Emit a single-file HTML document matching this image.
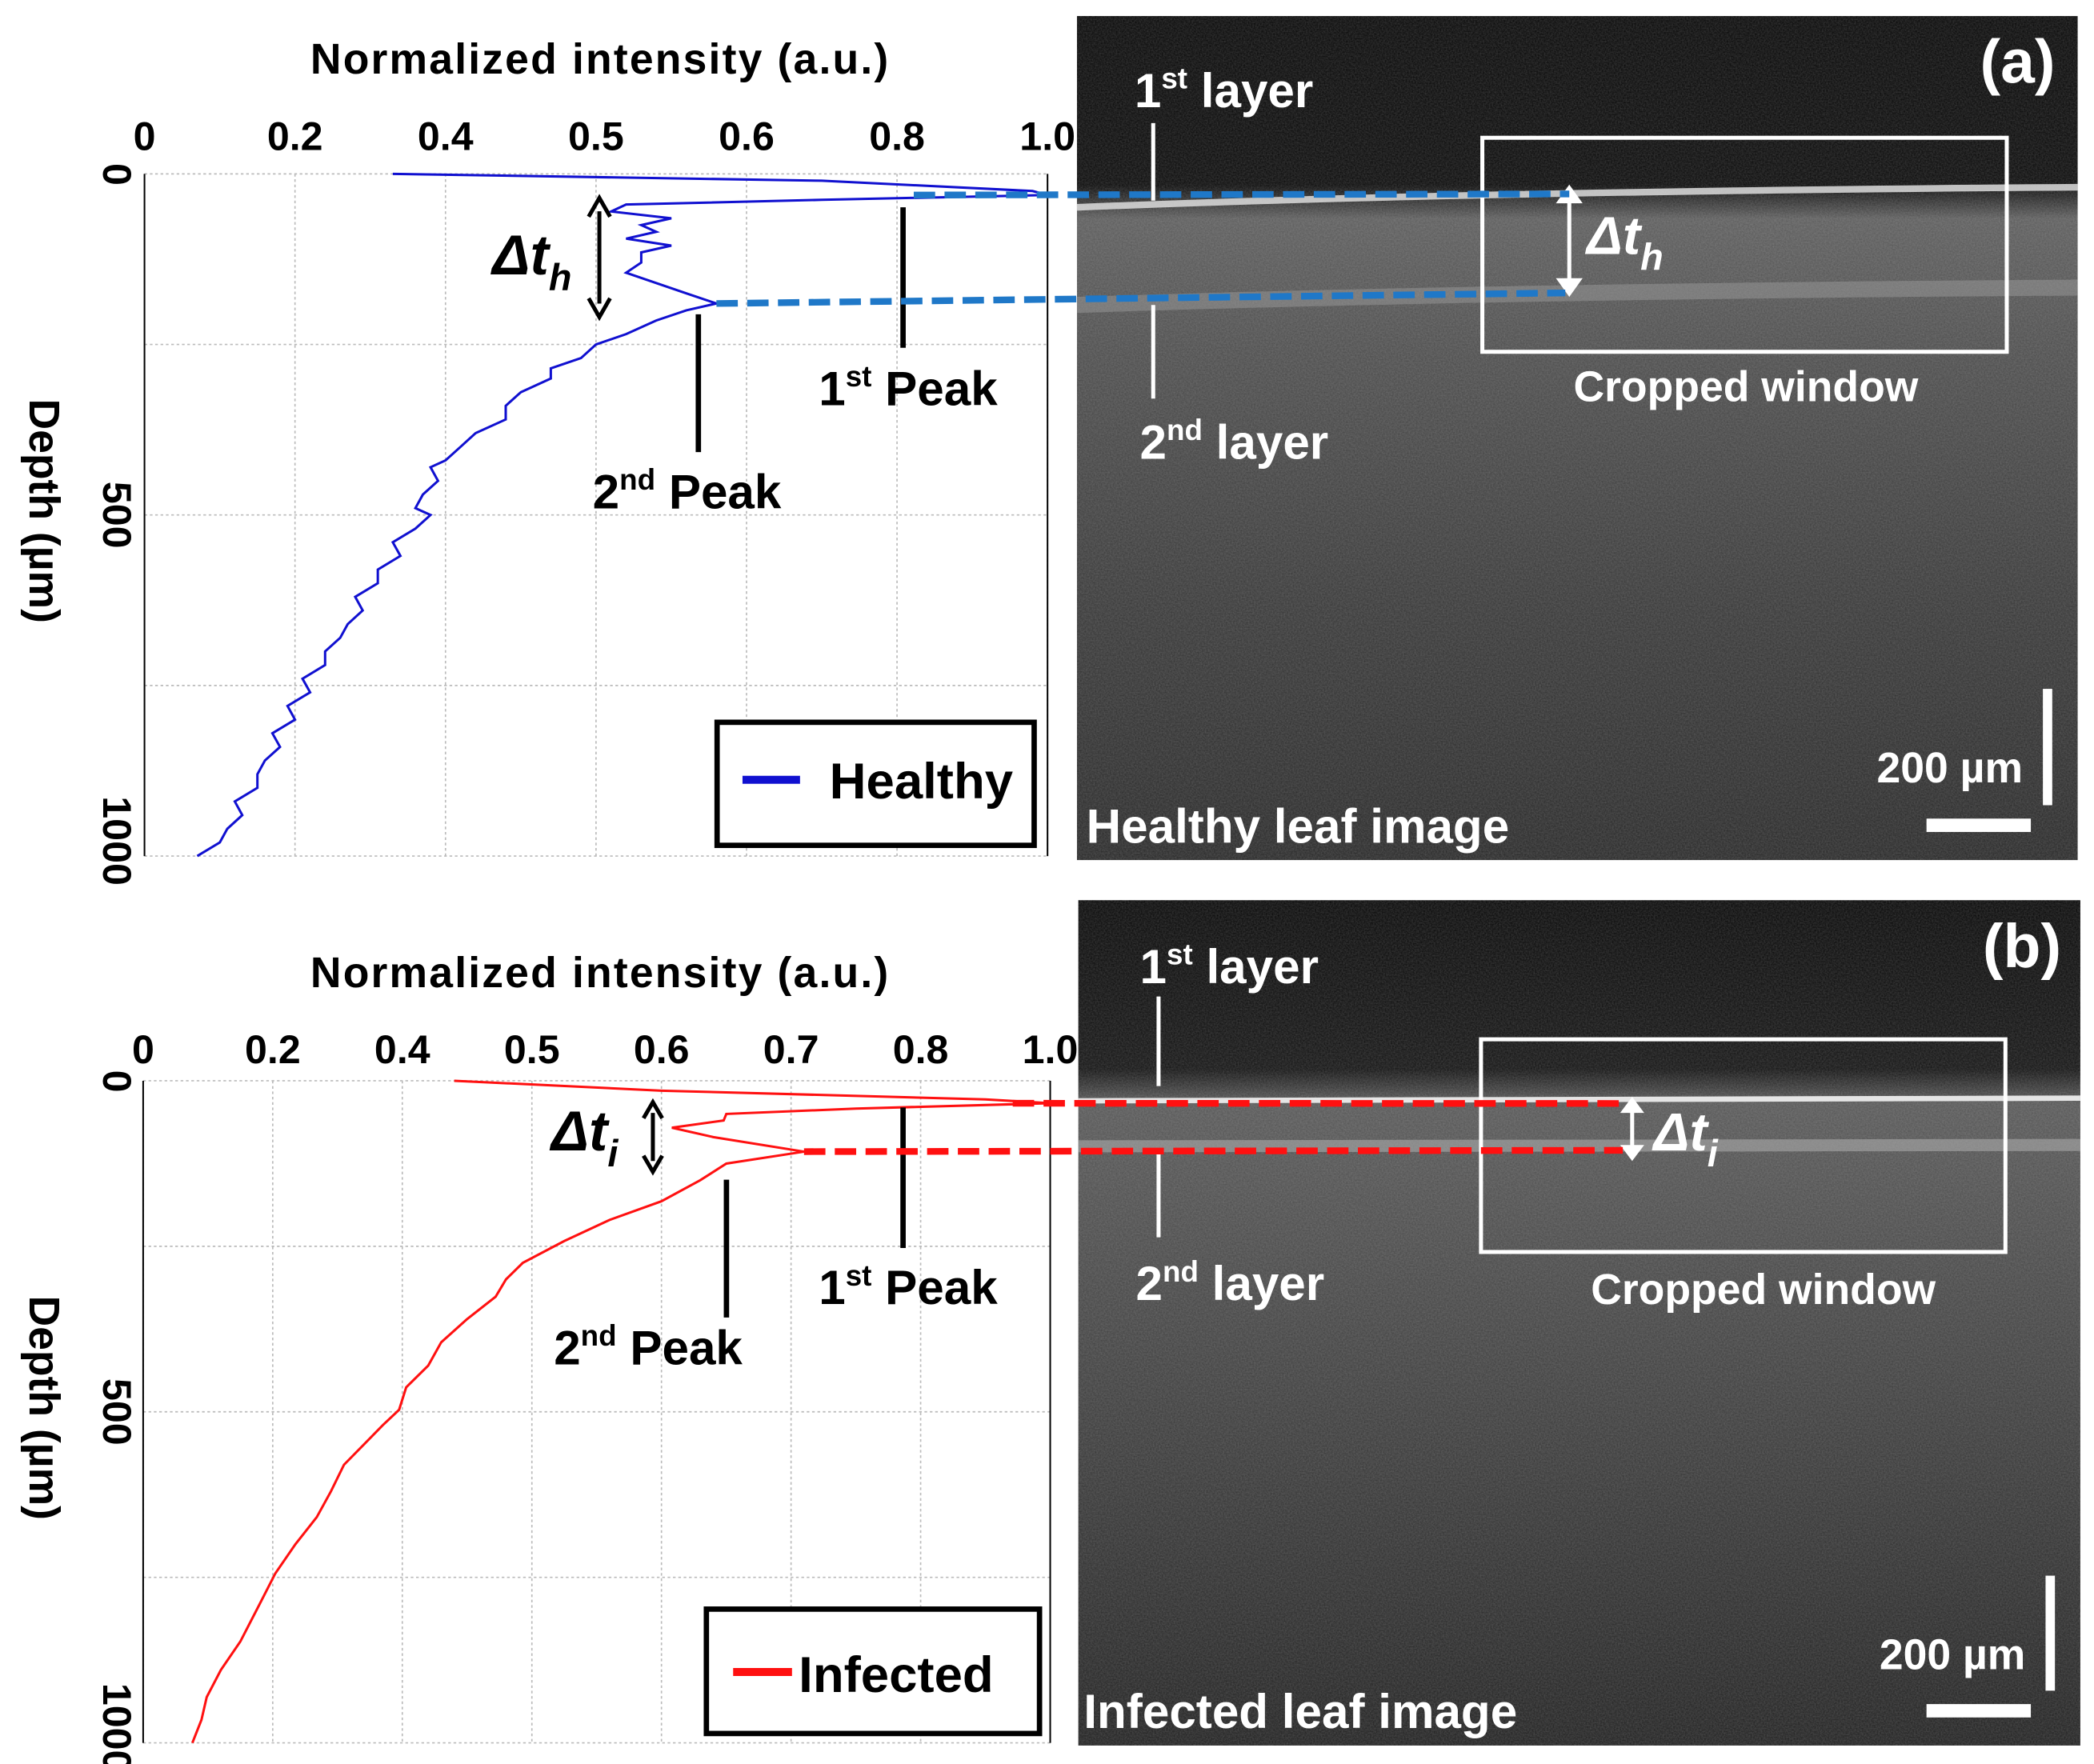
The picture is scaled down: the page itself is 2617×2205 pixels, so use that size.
<!DOCTYPE html>
<html><head><meta charset="utf-8"><style>
html,body{margin:0;padding:0;background:#fff;width:2617px;height:2205px;overflow:hidden}
svg{display:block}
text{font-family:"Liberation Sans",sans-serif;font-weight:bold}
</style></head><body>
<svg id="fig" width="2617" height="2205" viewBox="0 0 1565.2 1318.8" xmlns="http://www.w3.org/2000/svg">
<defs>
<filter id="noise" x="0" y="0" width="100%" height="100%"><feTurbulence type="fractalNoise" baseFrequency="0.9" numOctaves="2" seed="3"/><feColorMatrix type="matrix" values="0 0 0 0 1  0 0 0 0 1  0 0 0 0 1  0 0 0 0.35 0"/></filter>
<linearGradient id="gA" x1="0" y1="0" x2="0" y2="1"><stop offset="0" stop-color="#050505"/><stop offset="0.2" stop-color="#080808"/><stop offset="0.24" stop-color="#5a5a5a"/><stop offset="0.4" stop-color="#4a4a4a"/><stop offset="0.7" stop-color="#353535"/><stop offset="1" stop-color="#262626"/></linearGradient>
<linearGradient id="gB" x1="0" y1="0" x2="0" y2="1"><stop offset="0" stop-color="#050505"/><stop offset="0.2" stop-color="#111"/><stop offset="0.24" stop-color="#555"/><stop offset="0.45" stop-color="#454545"/><stop offset="0.75" stop-color="#303030"/><stop offset="1" stop-color="#1e1e1e"/></linearGradient>
</defs>
<g id="topChart"></g>
<g id="botChart"></g>

<g>
<rect x="805" y="12" width="748" height="631" fill="url(#gA)"/>
<rect x="805" y="12" width="748" height="631" filter="url(#noise)" opacity="0.6"/>
<path d="M805 155 Q1100 143 1553 140" stroke="#ddd" stroke-width="5" fill="none" opacity="0.85"/>
<path d="M805 228 Q1100 218 1553 215" stroke="#999" stroke-width="12" fill="none" opacity="0.5"/>
<text x="1480" y="62" font-size="46" fill="#fff">(a)</text>
<text x="848" y="80" font-size="36" fill="#fff">1<tspan font-size="22" dy="-14">st</tspan><tspan dy="14"> layer</tspan></text>
<line x1="862" y1="92" x2="862" y2="150" stroke="#fff" stroke-width="3"/>
<line x1="862" y1="228" x2="862" y2="298" stroke="#fff" stroke-width="3"/>
<text x="852" y="343" font-size="36" fill="#fff">2<tspan font-size="22" dy="-14">nd</tspan><tspan dy="14"> layer</tspan></text>
<rect x="1108" y="103" width="392" height="160" fill="none" stroke="#fff" stroke-width="3"/>
<text x="1305" y="300" font-size="32" fill="#fff" text-anchor="middle">Cropped window</text>
<line x1="1173" y1="148" x2="1173" y2="212" stroke="#fff" stroke-width="3"/>
<path d="M1163 152 L1173 138 L1183 152Z M1163 208 L1173 222 L1183 208Z" fill="#fff"/>
<text x="1186" y="190" font-size="40" fill="#fff" font-style="italic">Δt<tspan font-size="28" dy="12">h</tspan></text>
<rect x="1527" y="515" width="7" height="87" fill="#fff"/>
<rect x="1440" y="612" width="78" height="10" fill="#fff"/>
<text x="1512" y="585" font-size="32" fill="#fff" text-anchor="end">200 µm</text>
<text x="812" y="630" font-size="36" fill="#fff">Healthy leaf image</text>
</g>
<g>
<rect x="806" y="673" width="749" height="632" fill="url(#gB)"/>
<rect x="806" y="673" width="749" height="632" filter="url(#noise)" opacity="0.6"/>
<line x1="806" y1="823" x2="1555" y2="821" stroke="#e5e5e5" stroke-width="4"/>
<line x1="806" y1="857" x2="1555" y2="856" stroke="#aaa" stroke-width="9" opacity="0.6"/>
<text x="1482" y="723" font-size="46" fill="#fff">(b)</text>
<text x="852" y="735" font-size="36" fill="#fff">1<tspan font-size="22" dy="-14">st</tspan><tspan dy="14"> layer</tspan></text>
<line x1="866" y1="745" x2="866" y2="812" stroke="#fff" stroke-width="3"/>
<line x1="866" y1="862" x2="866" y2="925" stroke="#fff" stroke-width="3"/>
<text x="849" y="972" font-size="36" fill="#fff">2<tspan font-size="22" dy="-14">nd</tspan><tspan dy="14"> layer</tspan></text>
<rect x="1107" y="777" width="392" height="159" fill="none" stroke="#fff" stroke-width="3"/>
<text x="1318" y="975" font-size="32" fill="#fff" text-anchor="middle">Cropped window</text>
<line x1="1220" y1="828" x2="1220" y2="860" stroke="#fff" stroke-width="3"/>
<path d="M1211 832 L1220 820 L1229 832Z M1211 856 L1220 868 L1229 856Z" fill="#fff"/>
<text x="1236" y="860" font-size="40" fill="#fff" font-style="italic">Δt<tspan font-size="28" dy="12">i</tspan></text>
<rect x="1529" y="1178" width="7" height="86" fill="#fff"/>
<rect x="1440" y="1274" width="78" height="10" fill="#fff"/>
<text x="1514" y="1248" font-size="32" fill="#fff" text-anchor="end">200 µm</text>
<text x="810" y="1292" font-size="36" fill="#fff">Infected leaf image</text>
</g>
<g id="overChart"></g>
</svg>
<script>
const NS='http://www.w3.org/2000/svg';
const hTicks=[0,0.2,0.4,0.5,0.6,0.8,1.0];
const depthTicks=[0,250,500,750,1000];
const hDepth=[0,10,25,31,38,45,55,65,75,85,95,105,115,130,145,160,175,190,200,215,235,250,270,285,300,320,340,360,380,400,420,430,450,470,490,500,520,540,560,580,600,620,640,660,680,700,720,740,760,780,800,820,840,860,880,900,920,940,960,980,1000];
const hVal=[0.33,0.7,0.98,1.0,0.7,0.52,0.51,0.55,0.53,0.54,0.52,0.55,0.53,0.53,0.52,0.54,0.56,0.58,0.56,0.54,0.52,0.50,0.49,0.47,0.47,0.45,0.44,0.44,0.42,0.41,0.40,0.38,0.39,0.37,0.36,0.38,0.36,0.33,0.34,0.31,0.31,0.28,0.29,0.27,0.26,0.24,0.24,0.21,0.22,0.19,0.20,0.17,0.18,0.16,0.15,0.15,0.12,0.13,0.11,0.10,0.07];
const iTicks=[0,0.2,0.4,0.5,0.6,0.7,0.8,1.0];
const iDepth=[0,15,28,34,42,50,60,71,85,107,125,150,182,210,242,275,300,326,360,395,430,463,497,520,548,580,620,659,700,744,790,847,890,931,965,1000];
const iVal=[0.44,0.6,0.9,1.0,0.75,0.65,0.648,0.608,0.64,0.71,0.65,0.63,0.60,0.56,0.525,0.493,0.48,0.472,0.45,0.43,0.42,0.403,0.395,0.37,0.342,0.31,0.29,0.268,0.235,0.204,0.18,0.15,0.12,0.098,0.09,0.076];

function mk(tag,attrs,parent){const e=document.createElementNS(NS,tag);for(const k in attrs)e.setAttribute(k,attrs[k]);parent.appendChild(e);return e;}
function chart(g,ticks,depth,val,L,R,T,B,color,titleY,tickY){
  const n=ticks.length-1;
  const xs=v=>{for(let i=0;i<n;i++){if(v<=ticks[i+1]){return L+(i+(v-ticks[i])/(ticks[i+1]-ticks[i]))*(R-L)/n;}}return R;};
  const ys=d=>T+(d-depthTicks[0])/(depthTicks[depthTicks.length-1]-depthTicks[0])*(B-T);
  ticks.forEach((t,i)=>{const x=L+i*(R-L)/n;
    const gl=mk('line',{x1:x,x2:x,y1:T,y2:B,stroke:'#bbb','stroke-width':1,'stroke-dasharray':'2,2'},g);
    
    
    const tl=mk('text',{x:x,y:tickY,'font-size':30,'text-anchor':'middle',fill:'#000'},g);tl.textContent=(t===0?'0':t===1?'1.0':String(t));
    
    
  });
  depthTicks.forEach(d=>{const y=ys(d);
    const gl=mk('line',{x1:L,x2:R,y1:y,y2:y,stroke:'#bbb','stroke-width':1,'stroke-dasharray':'2,2'},g);
    
    
    if(d%500===0){const tl=mk('text',{x:0,y:0,'font-size':30,'text-anchor':d===0?'start':(d===1000?'end':'middle'),fill:'#000',transform:`translate(77,${d===0?y-8:(d===1000?y+22:y)}) rotate(90)`},g);tl.textContent=d;
    
    }
  });
  const ax=mk('path',{d:`M${L} ${T}V${B}M${R} ${T}V${B}`,stroke:'#000','stroke-width':1.2,fill:'none'},g);
  
  
  const pts=depth.map((d,i)=>xs(val[i]).toFixed(1)+','+ys(d).toFixed(1)).join(' ');
  const pl=mk('polyline',{points:pts,fill:'none',stroke:color,'stroke-width':1.8},g);
  
  
  const tt=mk('text',{x:448,y:titleY,'font-size':32,'text-anchor':'middle',fill:'#000',textLength:432},g);tt.textContent='Normalized intensity (a.u.)';
  
  
  const yt=mk('text',{x:0,y:0,'font-size':32,'text-anchor':'middle',fill:'#000',transform:`translate(22,${(T+B)/2-3}) rotate(90)`},g);yt.textContent='Depth (µm)';
  
  
  return {xs,ys};
}
const gTop=document.getElementById('topChart'),gBot=document.getElementById('botChart'),gOver=document.getElementById('overChart');
const A=chart(gTop,hTicks,hDepth,hVal,108,783,130,640,'#1010d0',55,112);
const Bc=chart(gBot,iTicks,iDepth,iVal,107,785,808,1303,'#ff1010',738,795);
function lab(g,x,y,sup,main,name){const t=mk('text',{x:x,y:y,'font-size':36,fill:'#000'},g);t.innerHTML=`${sup[0]}<tspan font-size="22" dy="-14">${sup.slice(1)}</tspan><tspan dy="14">${main}</tspan>`;

}
mk('path',{d:'M675 155V260M522 235V338',stroke:'#000','stroke-width':4},gOver);
lab(gOver,612,303,'1st',' Peak','first-peak-label-a');
lab(gOver,443,380,'2nd','  Peak','second-peak-label-a');
mk('path',{d:'M448 158V227M440 162L448 148L456 162M440 223L448 237L456 223',stroke:'#000','stroke-width':3,fill:'none'},gOver);
{const t=mk('text',{x:368,y:205,'font-size':42,fill:'#000','font-style':'italic'},gOver);t.innerHTML='Δt<tspan font-size="28" dy="12">h</tspan>';

}
mk('path',{d:`M${A.xs(1.0)-100} ${A.ys(31)}L1173 145M${A.xs(0.58)} ${A.ys(190)}L1170 219`,stroke:'#1f78c8','stroke-width':5,'stroke-dasharray':'16,7',fill:'none'},gOver);
mk('rect',{x:536,y:540,width:237,height:92,fill:'#fff',stroke:'#000','stroke-width':4},gOver);
mk('line',{x1:555,x2:598,y1:583,y2:583,stroke:'#1010d0','stroke-width':6},gOver);
{const t=mk('text',{x:620,y:597,'font-size':38,fill:'#000'},gOver);t.textContent='Healthy';

}
mk('path',{d:'M675 828V933M543 882V985',stroke:'#000','stroke-width':4},gOver);
lab(gOver,612,975,'1st',' Peak','first-peak-label-b');
lab(gOver,414,1020,'2nd','  Peak','second-peak-label-b');
mk('path',{d:'M488 832V868M481 836L488 824L495 836M481 864L488 876L495 864',stroke:'#000','stroke-width':3,fill:'none'},gOver);
{const t=mk('text',{x:412,y:860,'font-size':42,fill:'#000','font-style':'italic'},gOver);t.innerHTML='Δt<tspan font-size="28" dy="12">i</tspan>';

}
mk('path',{d:`M757 ${Bc.ys(34)}L1215 825M${Bc.xs(0.71)} ${Bc.ys(107)}L1213 860`,stroke:'#ff1010','stroke-width':5,'stroke-dasharray':'16,7',fill:'none'},gOver);
mk('rect',{x:528,y:1203,width:249,height:93,fill:'#fff',stroke:'#000','stroke-width':4},gOver);
mk('line',{x1:548,x2:592,y1:1250,y2:1250,stroke:'#ff1010','stroke-width':6},gOver);
{const t=mk('text',{x:597,y:1265,'font-size':38,fill:'#000'},gOver);t.textContent='Infected';

}
</script>
</body></html>
